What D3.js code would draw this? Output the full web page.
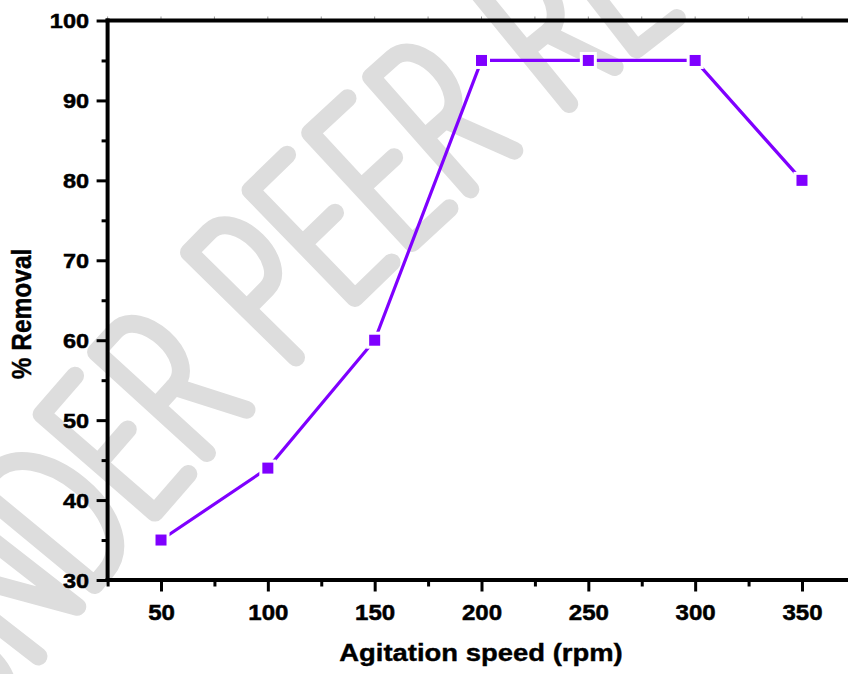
<!DOCTYPE html>
<html>
<head>
<meta charset="utf-8">
<script src="https://cdn.jsdelivr.net/npm/d3@7"></script>
<style>
  body { margin: 0; background: #fff; }
  svg { display: block; }
</style>
</head>
<body>
<svg width="848" height="674"></svg>
<script>
// data
const speeds = [50, 100, 150, 200, 250, 300, 350];
const removal = [35, 44, 60, 95, 95, 95, 80];
const xTicks = [50, 100, 150, 200, 250, 300, 350];
const xMinor = [25, 75, 125, 175, 225, 275, 325, 375];
const yTicks = [30, 40, 50, 60, 70, 80, 90, 100];
const yMinor = [35, 45, 55, 65, 75, 85, 95];
const xTitle = "Agitation speed (rpm)";
const yTitle = "% Removal";
const stamp = "UNDER PEER REVIEW";

const svg = d3.select("svg"),
    width = +svg.attr("width"),
    height = +svg.attr("height");

const font = "'Liberation Sans', Arial, sans-serif";
const stretch = 1.12;   // the picture's text is a bit wider than plain Arial
const purple = "#7f00ff";

// scales
const x = d3.scaleLinear().domain([25, 375]).range([107.6, 855.4]);
const y = d3.scaleLinear().domain([30, 100]).range([580, 20.5]);

// ---- watermark, drawn as thick rounded strokes along a wide arc ----
const glyphs = {
  U: [0.42, "M0 0 L0 0.66 C0 1.12 0.42 1.12 0.42 0.66 L0.42 0"],
  N: [0.42, "M0 1 L0 0 L0.42 1 L0.42 0"],
  D: [0.44, "M0 0 L0 1 L0.12 1 C0.56 1 0.56 0 0.12 0 Z"],
  E: [0.34, "M0.34 0 L0 0 L0 1 L0.34 1 M0 0.5 L0.3 0.5"],
  P: [0.37, "M0 1 L0 0 L0.19 0 C0.43 0 0.43 0.54 0.19 0.54 L0 0.54"],
  R: [0.39, "M0 1 L0 0 L0.19 0 C0.43 0 0.43 0.54 0.19 0.54 L0 0.54 M0.18 0.54 L0.39 1"],
  V: [0.46, "M0 0 L0.23 1 L0.46 0"],
  I: [0.00, "M0 0 L0 1"],
  W: [0.64, "M0 0 L0.15 1 L0.32 0.15 L0.49 1 L0.64 0"]
};
const H = 150, gap = 30, spaceAdv = 45;

function glyphPath(g) {
  let i = 0;
  const w = g[0];
  return g[1].replace(/-?\d*\.?\d+/g, n => {
    const v = +n;
    const out = (i % 2 === 0) ? (v - w / 2) * H : (v - 0.5) * H;
    i++;
    return out.toFixed(1);
  });
}

let cursor = 0, anchorS = 0;
const letters = [];
stamp.split("").forEach(c => {
  if (c === " ") { cursor += spaceAdv; return; }
  const adv = glyphs[c][0] * H + gap;
  const s = cursor + adv / 2;
  if (c === "P") anchorS = s;
  letters.push({ c, s });
  cursor += adv;
});

const arcR = 3500, th0 = -45.5 * Math.PI / 180, ax = 262, ay = 285;
const wm = svg.append("g");
letters.forEach(l => {
  const s = l.s - anchorS;
  const th = th0 + s / arcR;
  const px = ax + arcR * (Math.sin(th) - Math.sin(th0));
  const py = ay - arcR * (Math.cos(th) - Math.cos(th0));
  wm.append("path")
    .attr("d", glyphPath(glyphs[l.c]))
    .attr("transform", `translate(${px},${py}) rotate(${th * 180 / Math.PI})`)
    .attr("fill", "none")
    .attr("stroke", "#dddddd")
    .attr("stroke-width", 18)
    .attr("stroke-linecap", "round")
    .attr("stroke-linejoin", "round");
});

// ---- axes ----
function styleAxis(g) {
  g.select(".domain").remove();
  g.selectAll(".tick line").attr("stroke", "#000").attr("stroke-width", 3);
  g.attr("font-family", font);
}

// bottom
svg.append("g")
  .attr("transform", `translate(0,${y(30)})`)
  .call(d3.axisBottom(x).tickValues(xMinor).tickSize(6.5).tickFormat(""))
  .call(styleAxis);
const gx = svg.append("g")
  .attr("transform", `translate(0,${y(30)})`)
  .call(d3.axisBottom(x).tickValues(xTicks).tickSize(11.5))
  .call(styleAxis);
gx.selectAll(".tick text")
  .attr("y", 0).attr("dy", 0)
  .attr("transform", `translate(0,39.5) scale(${stretch},1)`)
  .attr("font-size", 21.5).attr("font-weight", "bold").attr("fill", "#000")
  .attr("stroke", "#000").attr("stroke-width", 0.5);

// left
svg.append("g")
  .attr("transform", `translate(${x(25)},0)`)
  .call(d3.axisLeft(y).tickValues(yMinor).tickSize(6).tickFormat(""))
  .call(styleAxis);
const gy = svg.append("g")
  .attr("transform", `translate(${x(25)},0)`)
  .call(d3.axisLeft(y).tickValues(yTicks).tickSize(11))
  .call(styleAxis);
gy.selectAll(".tick text")
  .attr("x", 0).attr("dy", 0)
  .attr("transform", `translate(-18.5,7.3) scale(${stretch},1)`)
  .attr("font-size", 21).attr("font-weight", "bold").attr("fill", "#000")
  .attr("stroke", "#000").attr("stroke-width", 0.5);

// faint stubs on the top edge
svg.append("g")
  .selectAll("line")
  .data(xMinor.concat(xTicks))
  .join("line")
    .attr("x1", d => x(d)).attr("x2", d => x(d))
    .attr("y1", y(100) - 1.5).attr("y2", y(100) - 4)
    .attr("stroke", "#999").attr("stroke-width", 1);

// frame
const frame = svg.append("g")
  .attr("stroke", "#000").attr("stroke-width", 4).attr("stroke-linecap", "square");
frame.append("line").attr("x1", x(25)).attr("x2", x(375)).attr("y1", y(30)).attr("y2", y(30));
frame.append("line").attr("x1", x(25)).attr("x2", x(375)).attr("y1", y(100)).attr("y2", y(100));
frame.append("line").attr("x1", x(25)).attr("x2", x(25)).attr("y1", y(30)).attr("y2", y(100));
frame.append("line").attr("x1", x(375)).attr("x2", x(375)).attr("y1", y(30)).attr("y2", y(100));

// ---- series ----
const pts = speeds.map((s, i) => [s, removal[i]]);
svg.append("path")
  .datum(pts)
  .attr("fill", "none")
  .attr("stroke", purple)
  .attr("stroke-width", 3.2)
  .attr("d", d3.line().x(d => x(d[0])).y(d => y(d[1])));

svg.append("g")
  .selectAll("rect")
  .data(pts)
  .join("rect")
    .attr("x", d => x(d[0]) - 5.5)
    .attr("y", d => y(d[1]) - 5.5)
    .attr("width", 11)
    .attr("height", 11)
    .attr("fill", purple)
    .attr("stroke", "#fff")
    .attr("stroke-width", 6)
    .attr("paint-order", "stroke");

// ---- titles ----
svg.append("text")
  .attr("transform", `translate(481,660.7) scale(${stretch},1)`)
  .attr("text-anchor", "middle")
  .attr("font-family", font)
  .attr("font-weight", "bold")
  .attr("font-size", 24.5)
  .attr("stroke", "#000").attr("stroke-width", 0.4)
  .text(xTitle);

svg.append("text")
  .attr("transform", `translate(31,314) scale(${stretch},1) rotate(-90)`)
  .attr("text-anchor", "middle")
  .attr("font-family", font)
  .attr("font-weight", "bold")
  .attr("font-size", 24.5)
  .attr("stroke", "#000").attr("stroke-width", 0.4)
  .text(yTitle);
</script>
</body>
</html>
